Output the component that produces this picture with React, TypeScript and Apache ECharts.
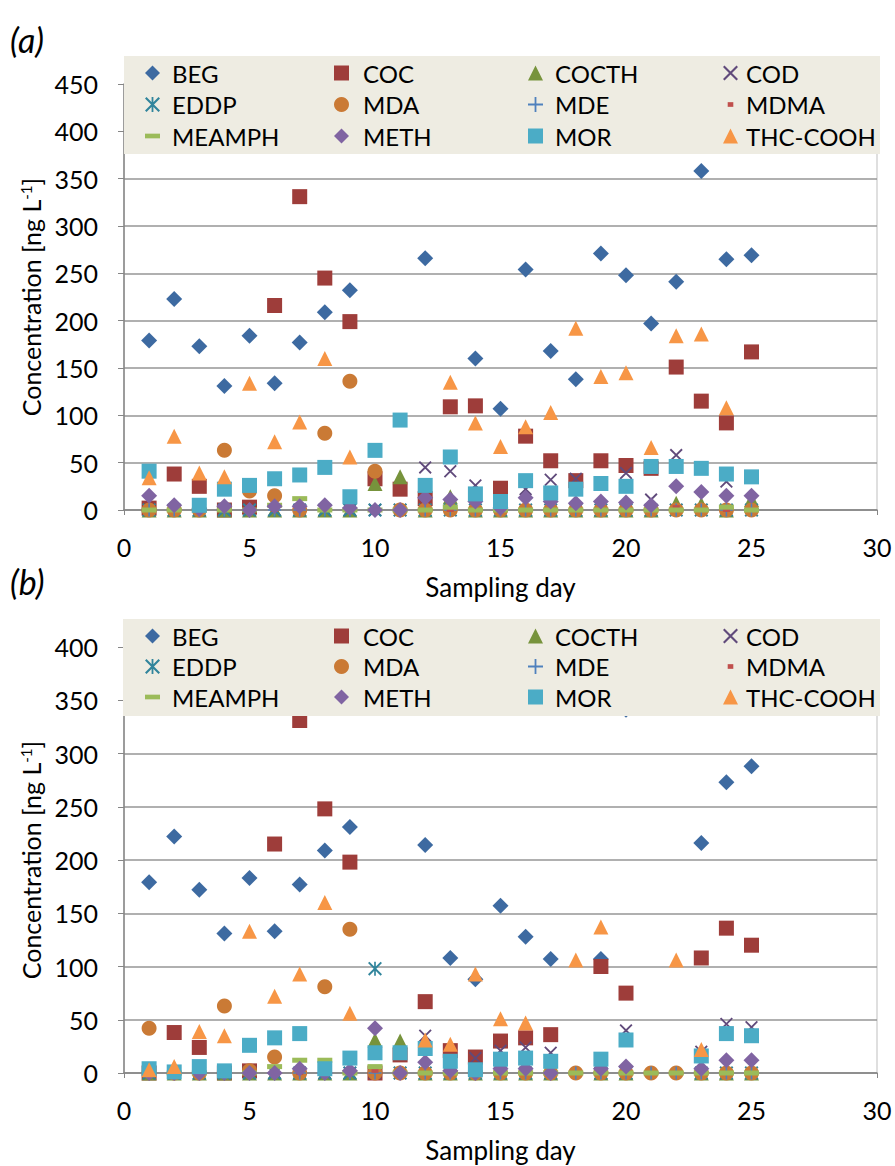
import React, { useEffect, useRef } from "react";
import * as echarts from "echarts";

// ---------- data ----------
const DAYS = [1, 2, 3, 4, 5, 6, 7, 8, 9, 10, 11, 12, 13, 14, 15, 16, 17, 18, 19, 20, 21, 22, 23, 24, 25];
const X_TICKS = [0, 5, 10, 15, 20, 25, 30];

// chart (a)
const BEG_A = [179, 223, 173, 131, 184, 134, 177, 209, 232, null, null, 266, null, 160, 107, 254, 168, 138, 271, 248, 197, 241, 358, 265, 269];
const COC_A = [2, 38, 25, 0, 3, 216, 331, 245, 199, 33, 22, 12, 109, 110, 23, 78, 52, 31, 52, 47, 44, 151, 115, 92, 167];
const COCTH_A = [0, 0, 0, 0, 0, 0, 0, 0, 0, 28, 35, 0, 14, 0, 0, 0, 0, 0, 0, 0, 0, 7, 6, 0, 11];
const COD_A = [0, 0, 0, 0, 0, 0, 0, 0, 0, 0, 0, 45, 41, 26, 9, 22, 32, 33, 28, 39, 11, 58, 44, 30, 35];
const EDDP_A = [0, 0, 0, 0, 0, 0, 0, 0, 0, 0, 0, 0, 0, 0, 0, 0, 0, 0, 0, 0, 0, 0, 0, 0, 0];
const MDA_A = [0, 0, 0, 63, 20, 15, 0, 81, 136, 41, 0, 0, 0, 0, 0, 0, 0, 0, 0, 0, 0, 0, 0, 0, 0];
const MDE_A = [0, 0, 0, 0, 0, 0, 0, 0, 0, 0, 0, 0, 0, 0, 0, 0, 0, 0, 0, 0, 0, 0, 0, 0, 0];
const MDMA_A = [0, 0, 0, 0, 0, 0, 1, 0, 0, 0, 0, 0, 0, 0, 0, 0, 0, 0, 0, 0, 0, 3, 0, 0, 0];
const MEAMPH_A = [0, 0, 0, 0, 0, 5, 12, 0, 0, 0, 0, 0, 3, 0, 0, 0, 0, 0, 0, 0, 0, 0, 0, 3, 0];
const METH_A = [15, 5, 1, 4, 0, 4, 4, 5, 2, 0, 0, 13, 11, 9, 2, 13, 9, 7, 9, 8, 5, 25, 19, 15, 15];
const MOR_A = [41, null, 5, 22, 26, 33, 37, 45, 14, 63, 95, 26, 56, 17, 9, 31, 18, 22, 28, 25, 46, 46, 44, 38, 35];
const THC_A = [34, 78, 39, 35, 134, 72, 93, 160, 56, null, null, null, 135, 92, 67, 88, 103, 192, 141, 145, 66, 184, 186, 108, null];

// chart (b)
const BEG_B = [179, 222, 172, 131, 183, 133, 177, 209, 231, null, null, 214, 108, 88, 157, 128, 107, null, 107, 341, null, null, 216, 273, 288];
const COC_B = [0, 38, 24, 0, 2, 215, 331, 248, 198, 0, 17, 67, 21, 15, 30, 33, 36, null, 100, 75, null, null, 108, 136, 120];
const COCTH_B = [0, 0, 0, 0, 0, 0, 0, 0, 0, 31, 30, 0, 0, 0, 0, 0, 0, null, 0, 0, null, null, 0, 0, 0];
const COD_B = [0, 0, 0, 0, 0, 0, 0, 0, 0, 0, 0, 35, 0, 14, 21, 24, 19, null, 0, 40, null, null, 20, 46, 43];
const EDDP_B = [0, 0, 0, 0, 0, 0, 0, 0, 0, 98, 0, 0, 0, 0, 0, 0, 0, null, 0, 0, null, null, 0, 0, 0];
const MDA_B = [42, 0, 0, 63, 2, 15, 0, 81, 135, 0, 0, 0, 0, 0, 0, 0, 0, 0, 0, 0, 0, 0, 0, 0, 0];
const MDE_B = [0, 0, 0, 0, 0, 0, 0, 0, 0, 0, 0, 0, 0, 0, 0, 0, 0, 0, 0, 0, 0, 0, 0, 0, 0];
const MDMA_B = [0, 0, 0, 0, 0, 0, 0, 0, 0, 2, 0, 0, 0, 0, 0, 0, 0, null, 0, 0, null, null, 0, 0, 0];
const MEAMPH_B = [0, 0, 0, 0, 0, 6, 12, 12, 0, 6, 0, 0, 0, 0, 0, 0, 0, 0, 0, 0, 0, 0, 0, 0, 0];
const METH_B = [0, 0, 0, 0, 0, 0, 4, 0, 2, 42, 0, 10, 2, 0, 4, 4, 0, null, 4, 6, null, null, 4, 12, 12];
const MOR_B = [4, 1, 6, 2, 26, 33, 37, 4, 14, 19, 19, 23, 11, 3, 13, 14, 11, null, 13, 31, null, null, 16, 37, 35];
const THC_B = [3, 6, 39, 35, 133, 72, 93, 160, 56, null, null, 31, 27, 93, 51, 47, null, 106, 137, null, null, 106, 22, null, null];

const NAMES = ["BEG", "COC", "COCTH", "COD", "EDDP", "MDA", "MDE", "MDMA", "MEAMPH", "METH", "MOR", "THC-COOH"];
const SERIES_A = [BEG_A, COC_A, COCTH_A, COD_A, EDDP_A, MDA_A, MDE_A, MDMA_A, MEAMPH_A, METH_A, MOR_A, THC_A];
const SERIES_B = [BEG_B, COC_B, COCTH_B, COD_B, EDDP_B, MDA_B, MDE_B, MDMA_B, MEAMPH_B, METH_B, MOR_B, THC_B];

// ---------- styles ----------
const X_PATH = "path://M0,1L1,0L10,9L9,10Z M9,0L10,1L1,10L0,9Z";
const STAR_PATH = "path://M0,1L1,0L10,9L9,10Z M9,0L10,1L1,10L0,9Z M4.4,0H5.6V10H4.4Z";
const PLUS_PATH = "path://M4.4,0H5.6V10H4.4Z M0,4.4H10V5.6H0Z";

const COLORS: Record<string, string> = {
  BEG: "#3D6AA1",
  COC: "#9E3D3A",
  COCTH: "#77933C",
  COD: "#604A7B",
  EDDP: "#31859C",
  MDA: "#CA7A35",
  MDE: "#4F81BD",
  MDMA: "#C0504D",
  MEAMPH: "#9BBB59",
  METH: "#8064A2",
  MOR: "#4BACC6",
  "THC-COOH": "#F79646",
};
const SYMBOLS: Record<string, any> = {
  BEG: ["diamond", 16],
  COC: ["rect", 15],
  COCTH: ["triangle", 15],
  COD: [X_PATH, 13],
  EDDP: [STAR_PATH, 14],
  MDA: ["circle", 15],
  MDE: [PLUS_PATH, 13],
  MDMA: ["rect", [7, 4]],
  MEAMPH: ["rect", [15, 5]],
  METH: ["diamond", 16],
  MOR: ["rect", 15],
  "THC-COOH": ["triangle", 15],
};
const LEGEND_ICONS: Record<string, string> = {
  BEG: "diamond",
  COC: "rect",
  COCTH: "triangle",
  COD: X_PATH,
  EDDP: STAR_PATH,
  MDA: "circle",
  MDE: PLUS_PATH,
  MDMA: "path://M0,0L0,0M16,16L16,16M5,5.5H11V10.5H5Z",
  MEAMPH: "path://M0,0L0,0M16,16L16,16M0,5.5H16V10.5H0Z",
  METH: "diamond",
  MOR: "rect",
  "THC-COOH": "triangle",
};

const FONT = "Lato";

export default function App() {
  const ref = useRef<HTMLDivElement>(null);
  useEffect(() => {
    if (!ref.current) return;
    const chart = echarts.init(ref.current, undefined, { renderer: "svg" });

    const grids = [
      { left: 124, top: 84, width: 753, height: 426 },
      { left: 124, top: 647, width: 753, height: 426 },
    ];
    const yMax = [450, 400];

    const xAxes = grids.map((_, i) => ({
      type: "value",
      gridIndex: i,
      min: X_TICKS[0],
      max: X_TICKS[X_TICKS.length - 1],
      interval: 5,
      name: "Sampling day",
      nameLocation: "middle",
      nameGap: 64,
      nameTextStyle: { fontFamily: FONT, fontSize: 26, color: "#000" },
      axisLine: { show: true, lineStyle: { color: "#868686", width: 1.5 } },
      axisTick: { show: true, length: 5, inside: false, lineStyle: { color: "#868686" } },
      axisLabel: { fontFamily: FONT, fontSize: 25, color: "#000", margin: 24 },
      splitLine: { show: false },
    }));
    const yAxes = grids.map((_, i) => ({
      type: "value",
      gridIndex: i,
      min: 0,
      max: yMax[i],
      interval: 50,
      name: "Concentration [ng L{sup|-1}]",
      nameLocation: "middle",
      nameRotate: 90,
      nameGap: 76,
      nameTextStyle: {
        fontFamily: FONT,
        fontSize: 25,
        color: "#000",
        rich: { sup: { fontFamily: FONT, fontSize: 15, verticalAlign: "top", color: "#000" } },
      },
      axisLine: { show: true, lineStyle: { color: "#868686", width: 1.5 } },
      axisTick: { show: true, length: 6, lineStyle: { color: "#868686" } },
      axisLabel: { fontFamily: FONT, fontSize: 25, color: "#000", margin: 26 },
      splitLine: { show: true, lineStyle: { color: "#969696", width: 1.5 } },
    }));

    const series: any[] = [];
    [SERIES_A, SERIES_B].forEach((set, gi) => {
      set.forEach((vals, k) => {
        const name = NAMES[k];
        const [sym, size] = SYMBOLS[name];
        const data: number[][] = [];
        vals.forEach((v, j) => {
          if (v !== null && v !== undefined) data.push([DAYS[j], v as number]);
        });
        series.push({
          type: "scatter",
          name,
          xAxisIndex: gi,
          yAxisIndex: gi,
          symbol: sym,
          symbolSize: size,
          itemStyle: { color: COLORS[name], opacity: 1 },
          emphasis: { disabled: true },
          data,
          z: 2,
        });
      });
    });

    const cols = [
      ["BEG", "EDDP", "MEAMPH"],
      ["COC", "MDA", "METH"],
      ["COCTH", "MDE", "MOR"],
      ["COD", "MDMA", "THC-COOH"],
    ];
    const colLeft = [145, 334, 528, 723];
    const colPad = [7, 9, 7, 3];
    const legendTop = [61, 624];
    const legendGap = [7.5, 6.5];
    const legends: any[] = [];
    [0, 1].forEach((gi) => {
      cols.forEach((col, ci) => {
        legends.push({
          orient: "vertical",
          left: colLeft[ci],
          top: legendTop[gi],
          padding: 0,
          itemGap: legendGap[gi],
          itemWidth: 15,
          itemHeight: 15,
          selectedMode: false,
          z: 5,
          textStyle: {
            fontFamily: FONT,
            fontSize: 24,
            lineHeight: 24,
            color: "#000",
            padding: [0, 0, 0, colPad[ci]],
          },
          data: col.map((n) => ({ name: n, icon: LEGEND_ICONS[n] })),
        });
      });
    });

    const option: any = {
      animation: false,
      backgroundColor: "#fff",
      textStyle: { fontFamily: FONT },
      grid: grids.map((g) => ({ ...g, show: true, borderColor: "#BFBFBF", borderWidth: 1, backgroundColor: "transparent" })),
      xAxis: xAxes,
      yAxis: yAxes,
      legend: legends,
      graphic: [
        { type: "text", left: 10, top: 22, z: 6, style: { text: "(a)", fontFamily: FONT, fontSize: 34, fontStyle: "italic", fill: "#000" } },
        { type: "text", left: 10, top: 564, z: 6, style: { text: "(b)", fontFamily: FONT, fontSize: 34, fontStyle: "italic", fill: "#000" } },
        { type: "rect", z: 3, shape: { x: 124, y: 56, width: 756, height: 98 }, style: { fill: "#EEECE2" } },
        { type: "rect", z: 3, shape: { x: 123, y: 619, width: 757, height: 97 }, style: { fill: "#EEECE2" } },
      ],
      series,
    };
    chart.setOption(option);
    return () => chart.dispose();
  }, []);
  return <div ref={ref} style={{ position: "absolute", left: 0, top: 0, width: 895, height: 1166 }} />;
}
